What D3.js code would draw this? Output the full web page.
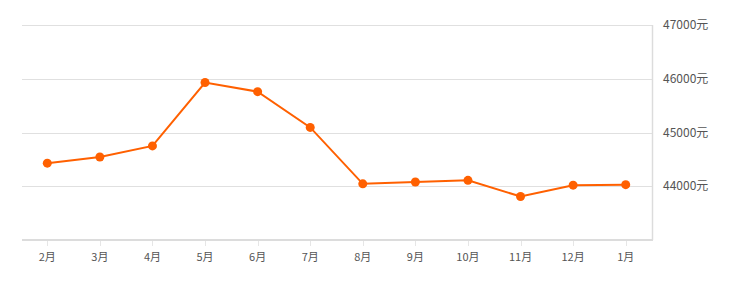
<!DOCTYPE html>
<html lang="zh">
<head>
  <meta charset="utf-8">
  <title></title>
  <script src="https://d3js.org/d3.v7.min.js"></script>
</head>
<style>
body { margin: 0; background: #fff; }
.tick-label {
  font-size: 11px;
  font-family: "Noto Sans CJK SC", "Noto Sans", sans-serif;
  fill: #555;
}
.grid-line { stroke: #e0e0e0; stroke-width: 1px; }
</style>
<body>
  <div class="chart"></div>
  <script>
  var months = ["2月","3月","4月","5月","6月","7月","8月","9月","10月","11月","12月","1月"];
  var prices = [44430, 44545, 44750, 45930, 45760, 45095, 44045, 44080, 44110, 43810, 44020, 44030];
  var yTicks = [44000, 45000, 46000, 47000];

  var width = 742, height = 293;
  var plot = {left: 22, right: 652, top: 25, bottom: 240};

  var svg = d3.select(".chart").append("svg")
    .attr("width", width)
    .attr("height", height);

  var x = d3.scaleBand().domain(months).range([21, 652]);
  var y = d3.scaleLinear().domain([43000, 47000]).range([plot.bottom, plot.top]);

  // grid lines
  svg.selectAll(".grid-line")
    .data(yTicks)
    .enter()
    .append("line")
    .attr("class", "grid-line")
    .attr("x1", plot.left)
    .attr("x2", plot.right)
    .attr("y1", function(d){ return Math.round(y(d)) + 0.5; })
    .attr("y2", function(d){ return Math.round(y(d)) + 0.5; });

  // right border
  svg.append("line")
    .attr("x1", plot.right + 0.5).attr("x2", plot.right + 0.5)
    .attr("y1", plot.top).attr("y2", plot.bottom)
    .attr("stroke", "#dcdcdc").attr("stroke-width", 1.5);

  // y labels
  svg.selectAll(".y-label")
    .data(yTicks)
    .enter()
    .append("text")
    .attr("class", "tick-label")
    .attr("x", 663)
    .attr("y", function(d){ return y(d) + 4; })
    .style("font-size", "12px")
    .text(function(d){ return d + "元"; });

  // x axis
  svg.append("line")
    .attr("x1", plot.left).attr("x2", plot.right + 1)
    .attr("y1", plot.bottom).attr("y2", plot.bottom)
    .attr("stroke", "#dcdcdc").attr("stroke-width", 2);

  svg.selectAll(".x-tick")
    .data(months)
    .enter()
    .append("line")
    .attr("x1", function(d){ return Math.round(x(d) + x.bandwidth()/2) + 0.5; })
    .attr("x2", function(d){ return Math.round(x(d) + x.bandwidth()/2) + 0.5; })
    .attr("y1", plot.bottom + 1)
    .attr("y2", plot.bottom + 6)
    .attr("stroke", "#e6e6e6");

  svg.selectAll(".x-label")
    .data(months)
    .enter()
    .append("text")
    .attr("class", "tick-label")
    .attr("text-anchor", "middle")
    .attr("x", function(d){ return x(d) + x.bandwidth()/2; })
    .attr("y", 261)
    .text(function(d){ return d; });

  // series
  var line = d3.line()
    .x(function(d, i){ return x(months[i]) + x.bandwidth()/2; })
    .y(function(d){ return y(d); });

  svg.append("path")
    .datum(prices)
    .attr("d", line)
    .attr("fill", "none")
    .attr("stroke", "#ff6000")
    .attr("stroke-width", 2);

  svg.selectAll(".dot")
    .data(prices)
    .enter()
    .append("circle")
    .attr("cx", function(d, i){ return x(months[i]) + x.bandwidth()/2; })
    .attr("cy", function(d){ return y(d); })
    .attr("r", 4.5)
    .attr("fill", "#ff6000");
  </script>
</body>
</html>
